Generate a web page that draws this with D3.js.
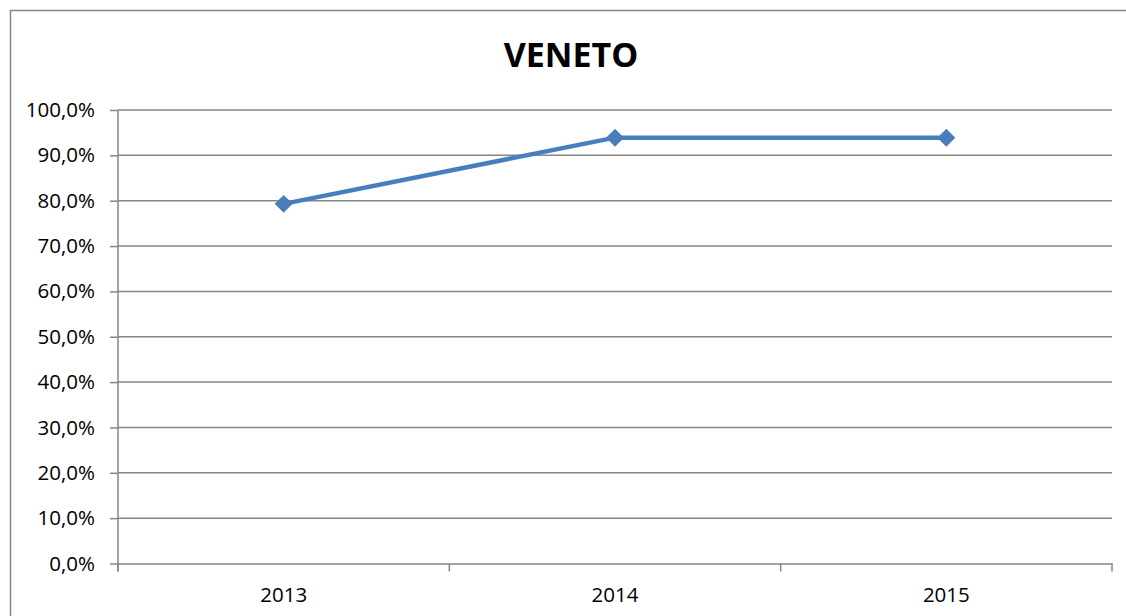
<!DOCTYPE html>
<html>
<head>
<meta charset="utf-8">
<script src="https://cdn.jsdelivr.net/npm/d3@7"></script>
<style>
  body { margin: 0; background: #fff; }
  svg text { font-family: "Open Sans", sans-serif; fill: #000; }
</style>
</head>
<body>
<script>
// chart data
const title = "VENETO";
const years = ["2013", "2014", "2015"];
const values = [0.793, 0.939, 0.939];
const yTicks = [0, 0.1, 0.2, 0.3, 0.4, 0.5, 0.6, 0.7, 0.8, 0.9, 1.0];

const width = 1126, height = 616,
      plot = {left: 118, right: 1112, top: 110, bottom: 563.5},
      gray = "#868686", blue = "#4a7ebb";

const svg = d3.select("body").append("svg")
              .attr("width", width)
              .attr("height", height);

// outer chart frame (right and bottom sit outside the picture)
svg.append("rect")
   .attr("x", 10.5).attr("y", 10.5)
   .attr("width", 1130).attr("height", 640)
   .attr("fill", "none")
   .attr("stroke", gray)
   .attr("stroke-width", 1.5);

svg.append("text")
   .attr("x", 571).attr("y", 67)
   .attr("text-anchor", "middle")
   .attr("font-size", 34)
   .attr("font-weight", "bold")
   .text(title);

const x = d3.scaleBand().domain(years).range([plot.left, plot.right]).padding(0),
      y = d3.scaleLinear().domain([0, 1]).range([plot.bottom, plot.top]);

const it = d3.formatLocale({decimal: ",", thousands: ".", grouping: [3], currency: ["€", ""]});
const pct = it.format(".1%");

// gridlines
svg.append("g")
   .selectAll("line")
   .data(yTicks.filter(d => d > 0))
   .enter().append("line")
   .attr("x1", plot.left).attr("x2", plot.right)
   .attr("y1", d => y(d)).attr("y2", d => y(d))
   .attr("stroke", gray)
   .attr("stroke-width", 1.5);

// y axis
const yAxis = svg.append("g")
   .attr("transform", "translate(" + plot.left + ",0)")
   .call(d3.axisLeft(y).tickValues(yTicks).tickFormat(pct).tickSize(8).tickPadding(15));
yAxis.selectAll("path, line").attr("stroke", gray).attr("stroke-width", 1.5);
yAxis.select(".domain").attr("d", "M0," + y(1) + "V" + (plot.bottom + 8));
yAxis.selectAll("text").attr("font-size", 20.5).attr("font-family", "Open Sans").attr("fill", "#000");

// x axis: labels centred, ticks at band edges
const xAxis = svg.append("g")
   .attr("transform", "translate(0," + plot.bottom + ")")
   .call(d3.axisBottom(x).tickSize(0).tickPadding(24));
xAxis.select(".domain").attr("stroke", gray).attr("stroke-width", 1.5);
xAxis.selectAll("text").attr("font-size", 20.5).attr("font-family", "Open Sans").attr("fill", "#000");

const edges = years.map(d => x(d)).concat([x(years[years.length - 1]) + x.bandwidth()]);
svg.append("g")
   .selectAll("line")
   .data(edges)
   .enter().append("line")
   .attr("x1", d => d).attr("x2", d => d)
   .attr("y1", plot.bottom).attr("y2", plot.bottom + 8)
   .attr("stroke", gray)
   .attr("stroke-width", 1.5);

// series
const cx = d => x(d) + x.bandwidth() / 2;
const line = d3.line().x((d, i) => cx(years[i])).y(d => y(d));

svg.append("path")
   .datum(values)
   .attr("d", line)
   .attr("fill", "none")
   .attr("stroke", blue)
   .attr("stroke-width", 4.5)
   .attr("stroke-linejoin", "round");

svg.append("g")
   .selectAll("path")
   .data(values)
   .enter().append("path")
   .attr("transform", (d, i) => "translate(" + cx(years[i]) + "," + y(d) + ")")
   .attr("d", d3.symbol().type(d3.symbolDiamond2).size(206))
   .attr("fill", blue);
</script>
</body>
</html>
